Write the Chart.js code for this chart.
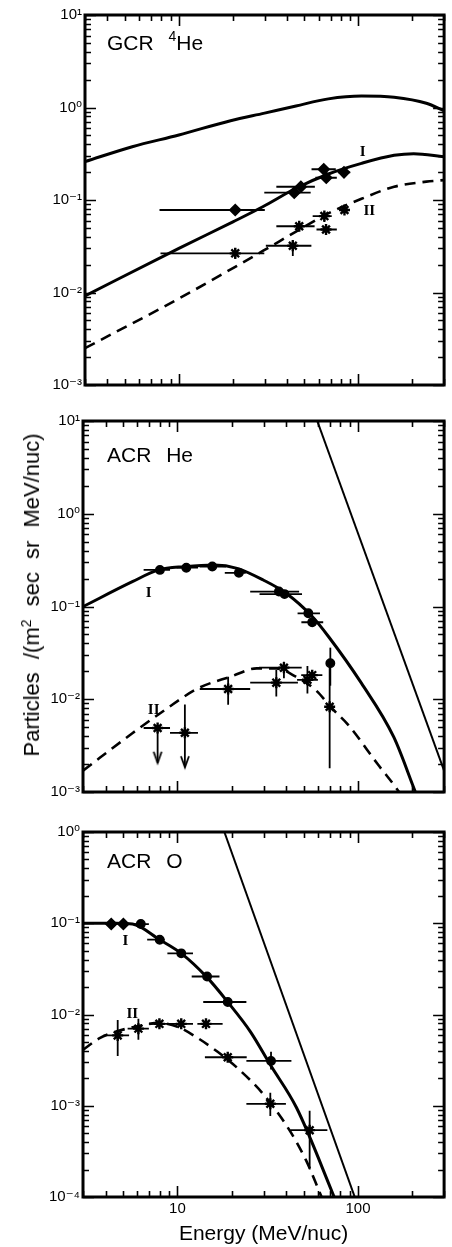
<!DOCTYPE html>
<html><head><meta charset="utf-8">
<script src="https://cdn.jsdelivr.net/npm/chart.js@4.4.1/dist/chart.umd.min.js"></script>
<style>
html,body{margin:0;padding:0;background:#fff;}
body{width:452px;height:1247px;position:relative;overflow:hidden;font-family:"Liberation Sans",Arial,sans-serif;color:#000;}
canvas{position:absolute;left:0;}
.ptitle{position:absolute;left:107px;font-size:21px;line-height:21px;white-space:nowrap;word-spacing:9px;z-index:2;}
.ptitle sup{font-size:14px;position:relative;top:-9px;vertical-align:baseline;line-height:0;}
#ytitle{position:absolute;left:32px;top:595px;transform:translate(-50%,-50%) rotate(-90deg);font-size:22px;line-height:24px;white-space:nowrap;word-spacing:7px;z-index:2;}
#ytitle sup{font-size:14px;position:relative;top:-8px;vertical-align:baseline;line-height:0;}
</style></head>
<body>
<canvas id="c1" width="452" height="400" style="top:0px"></canvas>
<canvas id="c2" width="452" height="420" style="top:400px"></canvas>
<canvas id="c3" width="452" height="427" style="top:820px"></canvas>
<div class="ptitle" style="top:32px">GCR <sup>4</sup>He</div>
<div class="ptitle" style="top:444px">ACR He</div>
<div class="ptitle" style="top:850px">ACR O</div>
<div id="ytitle">Particles /(m<sup>2</sup> sec sr MeV/nuc)</div>
<script>
// ---------------- Axes ----------------
const xMin = 3, xMax = 300;
const xTickValues = [3,4,5,6,7,8,9,10,20,30,40,50,60,70,80,90,100,200,300];
const xLabelValues = [10, 100];
const xTickLabels = ['10', '100'];
const yDecadesAB = [1e-3, 1e-2, 1e-1, 1, 10];
const yLabelsAB = ['10⁻³', '10⁻²', '10⁻¹', '10⁰', '10¹'];
const yDecadesC = [1e-4, 1e-3, 1e-2, 1e-1, 1];
const yLabelsC = ['10⁻⁴', '10⁻³', '10⁻²', '10⁻¹', '10⁰'];

// ---------------- Panel 1: GCR 4He ----------------
const gcrTopE = [3, 5.5, 10, 19.4, 30, 44.9, 68, 104, 158, 239, 300];
const gcrTopV = [0.26, 0.377, 0.505, 0.72, 0.87, 1.04, 1.24, 1.33, 1.29, 1.11, 0.92];
const gcr1CurveE = [3, 10, 20, 29.5, 44.9, 68, 104, 158, 203, 300];
const gcr1CurveV = [0.0092, 0.030, 0.058, 0.085, 0.134, 0.191, 0.249, 0.304, 0.317, 0.294];
const gcr2CurveE = [3, 10, 29.5, 44.9, 68, 104, 158, 239, 300];
const gcr2CurveV = [0.0025, 0.0086, 0.0283, 0.0455, 0.0718, 0.103, 0.139, 0.158, 0.164];
const gcr1E   = [20.6, 43.9, 47.8, 64.1, 66.2, 83.1];
const gcr1V   = [0.078, 0.12, 0.139, 0.215, 0.174, 0.199];
const gcr1Elo = [7.8, 29.9, 34.9, 54.8, 57.6, 77];
const gcr1Ehi = [30.1, 54.2, 57.2, 74.8, 75.8, 90];
const gcr2E   = [20.6, 43.1, 46.8, 64.6, 66.0, 83.6];
const gcr2V   = [0.0265, 0.032, 0.052, 0.067, 0.048, 0.078];
const gcr2Elo = [7.9, 30.5, 34.9, 55.6, 58.4, 79];
const gcr2Ehi = [29.9, 54.7, 57.0, 71.0, 75.8, 89];
const gcr2Vlo = [0.023, 0.0248, 0.047, 0.058, 0.043, 0.074];
const gcr2Vhi = [0.0303, 0.037, 0.057, 0.074, 0.055, 0.082];
const gcrNotes  = ['I', 'II'];
const gcrNotesE = [105.6, 115];
const gcrNotesV = [0.33, 0.076];

// ---------------- Panel 2: ACR He ----------------
const heSteepE = [59.5, 300];
const heSteepV = [10, 0.0017];
const he1CurveE = [3, 5.63, 7.86, 11, 16, 21.4, 29.9, 40, 55.8, 68.8, 104.5, 158, 208, 240];
const he1CurveV = [0.0996, 0.185, 0.248, 0.269, 0.28, 0.258, 0.193, 0.139, 0.078, 0.0472, 0.0149, 0.0039, 0.001, 0.0005];
const he2CurveE = [3, 5.63, 8.55, 13, 19.7, 27.5, 35.3, 45.3, 58.2, 71.7, 88.3, 128.5, 169, 200];
const he2CurveV = [0.0017, 0.0043, 0.0077, 0.0131, 0.0175, 0.0215, 0.0215, 0.0175, 0.0126, 0.008, 0.0053, 0.002, 0.001, 0.0006];
const he1E   = [8.0, 11.2, 15.6, 21.9, 36.5, 39.2, 53.1, 55.8, 70.3];
const he1V   = [0.248, 0.262, 0.27, 0.231, 0.145, 0.136, 0.0845, 0.0676, 0.0245];
const he1Elo = [6.5, 9.9, 13.3, 18.3, 25.3, 28.5, 46.3, 48.6, null];
const he1Ehi = [9.1, 13.0, 18.6, 23.9, 47.2, 49.0, 61.6, 64.2, null];
const he1Vlo = [null, null, null, null, null, null, null, null, 0.014];
const he1Vhi = [null, null, null, null, null, null, null, null, 0.036];
const he2E   = [7.77, 11.0, 19.1, 35.3, 38.9, 52.5, 55.8, 69.7];
const he2V   = [0.0049, 0.00435, 0.0129, 0.0151, 0.0219, 0.0162, 0.0182, 0.0083];
const he2Elo = [6.5, 9.1, 13.3, 25.3, 28.3, 46.0, 48.5, null];
const he2Ehi = [9.1, 13.0, 25.3, 46.5, 48.8, 60.0, 63.5, null];
const he2Vlo = [null, null, 0.0087, 0.0107, 0.0168, 0.0115, null, 0.0018];
const he2Vhi = [null, null, 0.0175, 0.0207, 0.0254, 0.0228, null, 0.0245];
const heLimE    = [7.77, 11.0];
const heLimFrom = [0.0049, 0.0088];
const heLimTo   = [0.00207, 0.00185];
const heNotes  = ['I', 'II'];
const heNotesE = [6.94, 7.39];
const heNotesV = [0.14, 0.0077];

// ---------------- Panel 3: ACR O ----------------
const oSteepE = [18.2, 96];
const oSteepV = [1, 0.0001];
const o1CurveE = [3, 3.7, 4.58, 5.64, 7.98, 10.5, 14.6, 19.0, 25.4, 32.7, 45.7, 72.4, 85];
const o1CurveV = [0.1, 0.1, 0.1, 0.098, 0.066, 0.0468, 0.0255, 0.0137, 0.00646, 0.00281, 0.00095, 0.00011, 0.00005];
const o2CurveE = [3, 3.71, 4.58, 6.14, 7.88, 10.1, 13, 16.7, 21.5, 30, 42, 51.7, 61.2, 70];
const o2CurveV = [0.0041, 0.0055, 0.0065, 0.0075, 0.0081, 0.0073, 0.0055, 0.0039, 0.00259, 0.00133, 0.00053, 0.00025, 0.000114, 0.00006];
const o1E   = [4.3, 5.02, 6.27, 7.98, 10.5, 14.6, 19.0, 33.0];
const o1V   = [0.098, 0.098, 0.098, 0.066, 0.0468, 0.0261, 0.0137, 0.0031];
const o1Elo = [null, null, 5.4, 6.8, 8.8, 12.0, 13.9, 24.1];
const o1Ehi = [null, null, 6.95, 8.5, 12.2, 17.1, 24.1, 42.8];
const o1Vlo = [null, null, null, null, null, null, null, 0.0025];
const o1Vhi = [null, null, null, null, null, null, null, 0.0039];
const o2E   = [4.67, 6.08, 7.95, 10.5, 14.4, 19.0, 32.7, 54.0];
const o2V   = [0.0059, 0.0070, 0.0079, 0.0079, 0.0079, 0.0034, 0.00105, 0.00054];
const o2Elo = [3.9, 5.3, 6.95, 8.8, 12.9, 14.2, 24.1, 42.2];
const o2Ehi = [5.4, 6.95, 8.8, 12.2, 17.8, 24.2, 39.9, 67.7];
const o2Vlo = [0.0035, 0.0053, 0.0072, null, null, null, 0.00077, 0.0002];
const o2Vhi = [0.0087, 0.0090, 0.0088, null, null, null, 0.00139, 0.00088];
const oNotes  = ['I', 'II'];
const oNotesE = [5.15, 5.62];
const oNotesV = [0.064, 0.0101];

// ---------------- helpers ----------------
const FONT = '"Liberation Sans", Arial, "DejaVu Sans", sans-serif';
const pairs = (E, V) => E.map((e, i) => ({x: e, y: V[i]}));
function hBars(E, V, lo, hi) {
  const d = [];
  V.forEach((v, i) => { if (lo[i] == null) return; d.push({x: lo[i], y: v}, {x: hi[i], y: v}, {x: hi[i], y: null}); });
  return d;
}
function vBars(E, lo, hi) {
  const d = [];
  E.forEach((e, i) => { if (lo[i] == null) return; d.push({x: e, y: lo[i]}, {x: e, y: hi[i]}, {x: e, y: null}); });
  return d;
}
function isDecade(v) { const l = Math.log10(v); return Math.abs(l - Math.round(l)) < 1e-6; }
function labelFrom(values, labels) {
  return (v) => { const i = values.findIndex(t => Math.abs(Math.log10(t) - Math.log10(v)) < 1e-6); return i >= 0 ? labels[i] : ''; };
}
function logTicks(minExp, maxExp) {
  const t = [];
  for (let e = minExp; e < maxExp; e++) for (let m = 1; m < 10; m++) t.push(+(m * Math.pow(10, e)).toPrecision(3));
  t.push(Math.pow(10, maxExp));
  return t;
}
const arrowHead = document.createElement('canvas');
arrowHead.width = 12; arrowHead.height = 26;
(function () { const g = arrowHead.getContext('2d'); g.strokeStyle = '#000'; g.lineWidth = 1.8; g.beginPath(); g.moveTo(2, 2); g.lineTo(6, 13); g.lineTo(10, 2); g.stroke(); })();

const curveDS = (E, V, w, dash) => ({data: pairs(E, V), borderColor: '#000', borderWidth: w, borderDash: dash || [], pointRadius: 0, fill: false, cubicInterpolationMode: 'monotone', spanGaps: false});
const straightDS = (E, V, w) => ({data: pairs(E, V), borderColor: '#000', borderWidth: w, pointRadius: 0, fill: false, tension: 0});
const barDS = (data) => ({data, borderColor: '#000', borderWidth: 1.8, pointRadius: 0, fill: false, tension: 0, spanGaps: false});
const markDS = (E, V, style, r, bw) => ({data: pairs(E, V), showLine: false, pointStyle: style, pointRadius: r, pointBackgroundColor: '#000', pointBorderColor: '#000', pointBorderWidth: bw || 1.5});

function framePlugin(notes, notesE, notesV) {
  return {
    id: 'frame',
    afterDatasetsDraw(chart) {
      const {ctx, chartArea: a, scales: {x, y}} = chart;
      ctx.save();
      ctx.strokeStyle = '#000';
      ctx.lineWidth = 1.6;
      ctx.beginPath();
      x.ticks.forEach(t => {
        const p = Math.round(x.getPixelForValue(t.value)) + 0.5;
        const L = isDecade(t.value) ? 11 : 6;
        ctx.moveTo(p, a.bottom); ctx.lineTo(p, a.bottom - L);
        ctx.moveTo(p, a.top); ctx.lineTo(p, a.top + L);
      });
      y.ticks.forEach(t => {
        const p = Math.round(y.getPixelForValue(t.value)) + 0.5;
        const L = isDecade(t.value) ? 11 : 6;
        ctx.moveTo(a.left, p); ctx.lineTo(a.left + L, p);
        ctx.moveTo(a.right, p); ctx.lineTo(a.right - L, p);
      });
      ctx.stroke();
      ctx.lineWidth = 3;
      ctx.strokeRect(a.left, a.top, a.right - a.left, a.bottom - a.top);
      ctx.fillStyle = '#000';
      ctx.font = 'bold 15px "Liberation Serif", "DejaVu Serif", serif';
      ctx.textAlign = 'center';
      ctx.textBaseline = 'middle';
      notes.forEach((n, i) => ctx.fillText(n, x.getPixelForValue(notesE[i]), y.getPixelForValue(notesV[i])));
      ctx.restore();
    }
  };
}

function makePanel(id, o) {
  new Chart(document.getElementById(id), {
    type: 'line',
    data: {datasets: o.datasets},
    options: {
      responsive: false, animation: false, devicePixelRatio: 1,
      layout: {padding: {top: o.padTop, right: o.padRight, left: 0, bottom: 0}},
      plugins: {legend: {display: false}, tooltip: {enabled: false}},
      scales: {
        x: {
          type: 'logarithmic', min: xMin, max: xMax,
          afterBuildTicks: s => { s.ticks = xTickValues.map(v => ({value: v})); },
          afterFit: s => { s.height = o.xHeight; },
          grid: {display: false, drawTicks: false},
          border: {display: false},
          ticks: {display: o.xLabels, autoSkip: false, maxRotation: 0, padding: 3, color: '#000',
                   font: {family: FONT, size: 15}, callback: labelFrom(xLabelValues, xTickLabels)},
          title: {display: !!o.xTitle, text: o.xTitle || '', color: '#000', font: {family: FONT, size: 21}, padding: {top: 0, bottom: 0}}
        },
        y: {
          type: 'logarithmic', min: o.yMin, max: o.yMax,
          afterBuildTicks: s => { s.ticks = o.yTicks.map(v => ({value: v})); },
          afterFit: s => { s.width = o.yWidth; },
          grid: {display: false, drawTicks: false},
          border: {display: false},
          ticks: {autoSkip: false, padding: 3, color: '#000', font: {family: FONT, size: 15},
                  callback: labelFrom(o.yDec, o.yLab)}
        }
      }
    },
    plugins: [framePlugin(o.notes, o.notesE, o.notesV)]
  });
}

// Panel 1
makePanel('c1', {
  padTop: 15, padRight: 1, xHeight: 15, yWidth: 85, xLabels: false,
  yMin: 1e-3, yMax: 10, yTicks: logTicks(-3, 1), yDec: yDecadesAB, yLab: yLabelsAB,
  notes: gcrNotes, notesE: gcrNotesE, notesV: gcrNotesV,
  datasets: [
    curveDS(gcrTopE, gcrTopV, 3),
    curveDS(gcr1CurveE, gcr1CurveV, 3),
    curveDS(gcr2CurveE, gcr2CurveV, 2.6, [11, 7]),
    barDS(hBars(gcr1E, gcr1V, gcr1Elo, gcr1Ehi)),
    barDS(hBars(gcr2E, gcr2V, gcr2Elo, gcr2Ehi)),
    barDS(vBars(gcr2E, gcr2Vlo, gcr2Vhi)),
    markDS(gcr1E, gcr1V, 'rectRot', 5.5),
    markDS(gcr2E, gcr2V, 'star', 5.5, 2.4)
  ]
});

// Panel 2
makePanel('c2', {
  padTop: 21, padRight: 1, xHeight: 28, yWidth: 83, xLabels: false,
  yMin: 1e-3, yMax: 10, yTicks: logTicks(-3, 1), yDec: yDecadesAB, yLab: yLabelsAB,
  notes: heNotes, notesE: heNotesE, notesV: heNotesV,
  datasets: [
    straightDS(heSteepE, heSteepV, 2),
    curveDS(he1CurveE, he1CurveV, 3),
    curveDS(he2CurveE, he2CurveV, 2.6, [11, 7]),
    barDS(hBars(he1E, he1V, he1Elo, he1Ehi)),
    barDS(vBars(he1E, he1Vlo, he1Vhi)),
    barDS(hBars(he2E, he2V, he2Elo, he2Ehi)),
    barDS(vBars(he2E, he2Vlo, he2Vhi)),
    barDS(vBars(heLimE, heLimFrom, heLimTo)),
    markDS(heLimE, heLimTo, arrowHead, 6),
    markDS(he1E, he1V, 'circle', 4.2),
    markDS(he2E, he2V, 'star', 5.5, 2.4)
  ]
});

// Panel 3
const o1Marks = markDS(o1E, o1V, 'circle', 4.2);
o1Marks.pointStyle = (c) => c.dataIndex < 2 ? 'rectRot' : 'circle';
o1Marks.pointRadius = (c) => c.dataIndex < 2 ? 5.5 : 4.2;
makePanel('c3', {
  padTop: 8, padRight: 2, xHeight: 50, yWidth: 83, xLabels: true, xTitle: 'Energy (MeV/nuc)',
  yMin: 1e-4, yMax: 1, yTicks: logTicks(-4, 0), yDec: yDecadesC, yLab: yLabelsC,
  notes: oNotes, notesE: oNotesE, notesV: oNotesV,
  datasets: [
    straightDS(oSteepE, oSteepV, 2),
    curveDS(o1CurveE, o1CurveV, 3),
    curveDS(o2CurveE, o2CurveV, 2.6, [11, 7]),
    barDS(hBars(o1E, o1V, o1Elo, o1Ehi)),
    barDS(vBars(o1E, o1Vlo, o1Vhi)),
    barDS(hBars(o2E, o2V, o2Elo, o2Ehi)),
    barDS(vBars(o2E, o2Vlo, o2Vhi)),
    o1Marks,
    markDS(o2E, o2V, 'star', 5.5, 2.4)
  ]
});
</script>
</body></html>
